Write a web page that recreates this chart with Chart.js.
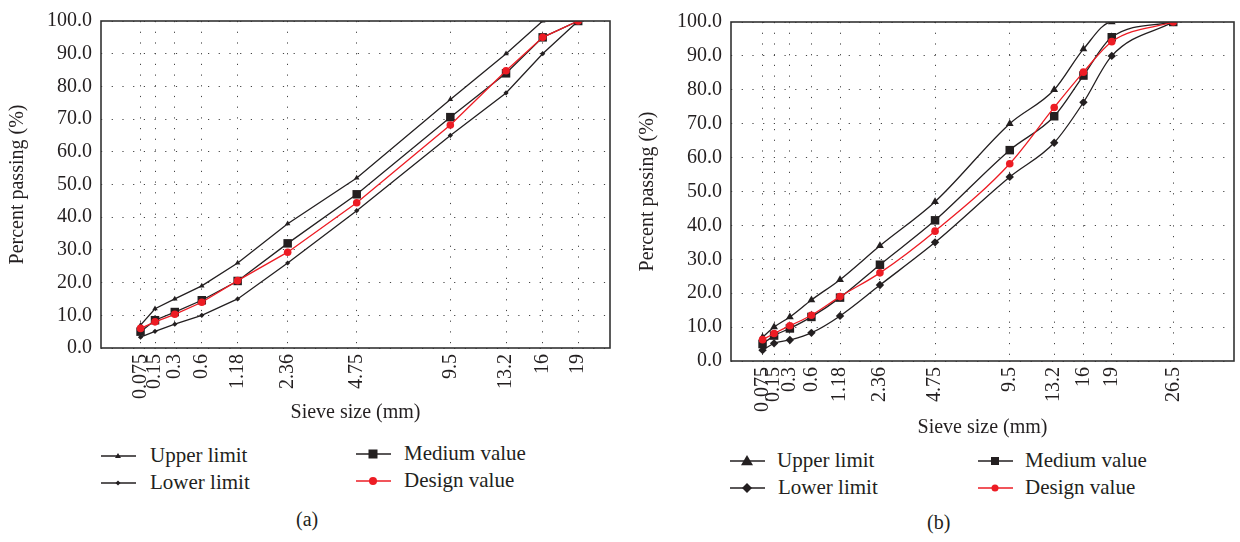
<!DOCTYPE html>
<html>
<head>
<meta charset="utf-8">
<script src="https://cdn.jsdelivr.net/npm/chart.js@4/dist/chart.umd.min.js"></script>
<style>
  body { margin: 0; background: #fff; width: 1240px; height: 542px; position: relative; overflow: hidden;
         font-family: "Liberation Serif", "DejaVu Serif", serif; color: #231f20; }
  canvas { position: absolute; }
  .leg { position: absolute; font-size: 21px; line-height: 24px; white-space: nowrap; }
  .sym { position: absolute; }
  .cap { position: absolute; font-size: 20px; }
</style>
</head>
<body>
<canvas id="chartA" width="620" height="425" style="left:0;top:0"></canvas>
<canvas id="chartB" width="620" height="440" style="left:620px;top:0"></canvas>
<div id="legends"></div>
<div class="cap" style="left:296px;top:508px">(a)</div>
<div class="cap" style="left:927px;top:511px">(b)</div>
<script>
// panel (a)
const sievesA = [0.075, 0.15, 0.3, 0.6, 1.18, 2.36, 4.75, 9.5, 13.2, 16, 19];
const upperA  = [7, 12, 15, 19, 26, 38, 52, 76, 90, 100, 100];
const lowerA  = [3.3, 5.1, 7.3, 10, 15, 26, 42, 65, 78, 90, 100];
const mediumA = [5, 8.5, 11, 14.6, 20.5, 32, 47, 70.6, 84, 95, 100];
const designA = [6, 8, 10.3, 14, 20.6, 29.3, 44.4, 68.2, 84.8, 95, 100];

// panel (b)
const sievesB = [0.075, 0.15, 0.3, 0.6, 1.18, 2.36, 4.75, 9.5, 13.2, 16, 19, 26.5];
const upperB  = [7, 10, 13, 18, 24, 34, 47, 70, 80, 92, 100, 100];
const lowerB  = [3.2, 5.2, 6.2, 8.3, 13.3, 22.4, 35, 54.3, 64.4, 76.3, 90, 100];
const mediumB = [5, 7.5, 9.6, 13, 18.7, 28.4, 41.5, 62.2, 72.2, 84.2, 95.5, 100];
const designB = [6.3, 8.1, 10.4, 13.5, 19, 26, 38.3, 58.2, 74.8, 85.2, 94.2, 100];

const seriesNames = ['Upper limit', 'Lower limit', 'Medium value', 'Design value'];
const yTicks = [0, 10, 20, 30, 40, 50, 60, 70, 80, 90, 100];

const BLACK = '#231f20';
const RED = '#ed1c24';
const FONT = "'Liberation Serif', 'DejaVu Serif', serif";

// gradation charts use size^0.45 on the x axis
const pw = v => Math.pow(v, 0.45);

const frame = {
  id: 'frame',
  afterDatasetsDraw(chart) {
    const a = chart.chartArea, ctx = chart.ctx;
    ctx.save();
    ctx.strokeStyle = '#333';
    ctx.lineWidth = 1.6;
    ctx.strokeRect(a.left, a.top, a.right - a.left, a.bottom - a.top);
    ctx.restore();
  }
};

function pts(sieves, vals) {
  return sieves.map((s, i) => ({x: pw(s), y: vals[i]}));
}

function makeChart(id, sieves, upper, lower, medium, design, cfg) {
  const mk = (label, vals, color, style, r, order) => ({
    label: label,
    data: pts(sieves, vals),
    borderColor: color,
    backgroundColor: color,
    borderWidth: 1.3,
    pointStyle: style,
    pointRadius: r,
    pointBorderWidth: 0,
    cubicInterpolationMode: cfg.smooth ? 'monotone' : 'default',
    tension: 0,
    order: order
  });
  return new Chart(document.getElementById(id), {
    type: 'line',
    data: {
      datasets: [
        mk(seriesNames[0], upper, BLACK, 'triangle', cfg.triR, 2),
        mk(seriesNames[1], lower, BLACK, 'rectRot', cfg.diaR, 3),
        mk(seriesNames[2], medium, BLACK, 'rect', 6, 1),
        mk(seriesNames[3], design, RED, 'circle', 3.8, 0)
      ]
    },
    options: {
      responsive: false,
      animation: false,
      layout: {padding: {top: cfg.top, right: cfg.right, bottom: 0, left: 0}},
      plugins: {legend: {display: false}, tooltip: {enabled: false}},
      scales: {
        x: {
          type: 'linear',
          min: 0,
          max: cfg.xmax,
          afterBuildTicks: s => { s.ticks = sieves.map(v => ({value: pw(v)})); },
          afterFit: s => { s.height = cfg.xh; },
          ticks: {
            autoSkip: false,
            minRotation: 90,
            maxRotation: 90,
            padding: 6,
            color: BLACK,
            font: {family: FONT, size: 20},
            callback: (v, i) => String(sieves[i])
          },
          grid: {color: '#444', lineWidth: 1, drawTicks: false},
          border: {display: false, dash: [1.2, 9.5]},
          title: {display: true, text: 'Sieve size (mm)', color: BLACK,
                  font: {family: FONT, size: 20}, padding: {top: 0, bottom: 0}}
        },
        y: {
          min: 0,
          max: 100,
          afterBuildTicks: s => { s.ticks = yTicks.map(v => ({value: v})); },
          afterFit: s => { s.width = cfg.yw; },
          ticks: {
            padding: 9,
            color: BLACK,
            font: {family: FONT, size: 20},
            callback: v => v.toFixed(1)
          },
          grid: {color: '#444', lineWidth: 1, drawTicks: false},
          border: {display: false, dash: [1.2, 9.5]},
          title: {display: true, text: 'Percent passing (%)', color: BLACK,
                  font: {family: FONT, size: 20}, padding: {top: cfg.ytp, bottom: 0}}
        }
      }
    },
    plugins: [frame]
  });
}

makeChart('chartA', sievesA, upperA, lowerA, mediumA, designA,
  {xmax: 4.013, xh: 77, yw: 101, top: 19, right: 10, ytp: 6, triR: 3.2, diaR: 2.6, smooth: false});
makeChart('chartB', sievesB, upperB, lowerB, mediumB, designB,
  {xmax: 4.97, xh: 79, yw: 111, top: 22, right: 2, ytp: 16, triR: 4.5, diaR: 4.2, smooth: true});

// legends, laid out in two columns like the original
function symbol(kind, color, size) {
  let m = '';
  if (kind === 'triangle') m = `<polygon points="17,${10 - size} ${17 + size},${10 + size * 0.7} ${17 - size},${10 + size * 0.7}" fill="${color}"/>`;
  if (kind === 'diamond') m = `<polygon points="17,${10 - size} ${17 + size},10 17,${10 + size} ${17 - size},10" fill="${color}"/>`;
  if (kind === 'square') m = `<rect x="${17 - size}" y="${10 - size}" width="${size * 2}" height="${size * 2}" fill="${color}"/>`;
  if (kind === 'circle') m = `<circle cx="17" cy="10" r="${size}" fill="${color}"/>`;
  return `<svg width="35" height="20"><line x1="0" y1="10" x2="35" y2="10" stroke="${color}" stroke-width="1.3"/>${m}</svg>`;
}

const legendItems = [
  // panel a
  {x: 101, y: 446, tx: 150, k: 'triangle', c: BLACK, s: 3, t: seriesNames[0]},
  {x: 101, y: 473, tx: 150, k: 'diamond', c: BLACK, s: 2.5, t: seriesNames[1]},
  {x: 356, y: 444, tx: 404, k: 'square', c: BLACK, s: 4.5, t: seriesNames[2]},
  {x: 356, y: 471, tx: 404, k: 'circle', c: RED, s: 4, t: seriesNames[3]},
  // panel b
  {x: 730, y: 451, tx: 777, k: 'triangle', c: BLACK, s: 6, t: seriesNames[0]},
  {x: 730, y: 478, tx: 778, k: 'diamond', c: BLACK, s: 5, t: seriesNames[1]},
  {x: 978, y: 451, tx: 1025, k: 'square', c: BLACK, s: 4, t: seriesNames[2]},
  {x: 978, y: 478, tx: 1025, k: 'circle', c: RED, s: 3.5, t: seriesNames[3]}
];
let html = '';
legendItems.forEach(it => {
  html += `<div class="sym" style="left:${it.x}px;top:${it.y}px">${symbol(it.k, it.c, it.s)}</div>`;
  html += `<div class="leg" style="left:${it.tx}px;top:${it.y - 3}px">${it.t}</div>`;
});
document.getElementById('legends').innerHTML = html;
</script>
</body>
</html>
